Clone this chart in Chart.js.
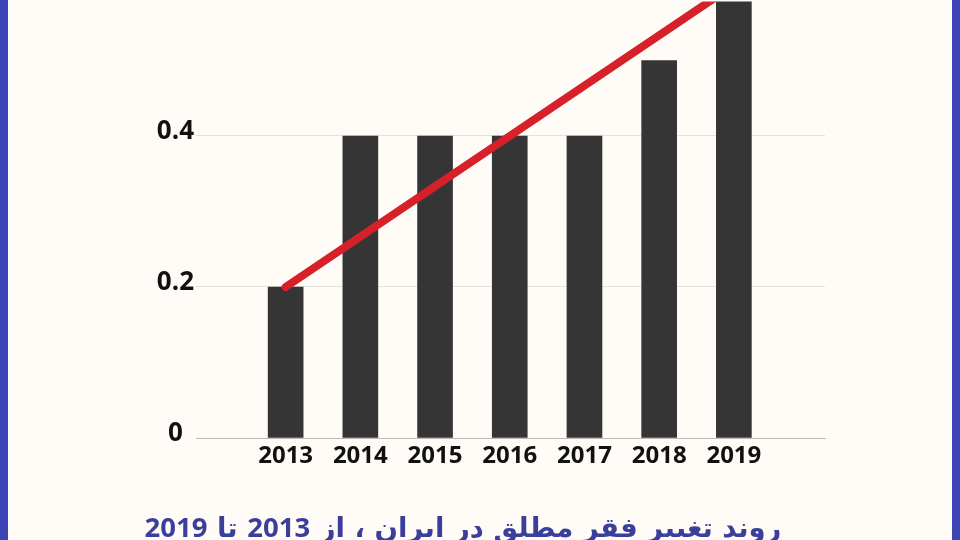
<!DOCTYPE html>
<html>
<head>
<meta charset="utf-8">
<script src="https://cdn.jsdelivr.net/npm/chart.js@4.4.1/dist/chart.umd.min.js"></script>
<style>
  html, body { margin: 0; padding: 0; background: #fffcf7; }
  #wrap { position: relative; width: 960px; height: 540px; overflow: hidden; background: #fffcf7; }
  #c { position: absolute; left: 0; top: -16px; }
  .edge { position: absolute; top: 0; width: 8px; height: 540px; background: #3d44b6; }
  #title {
    position: absolute; left: -17px; width: 960px; top: 508px;
    text-align: center; direction: rtl; white-space: nowrap;
    font-family: "DejaVu Sans", "Noto Sans", sans-serif; font-size: 27.5px; font-weight: bold;
    color: #3b3f9c; line-height: 38px;
  }
  #title b { font-family: "Open Sans", "DejaVu Sans", sans-serif; font-weight: 700; font-size: 27.5px; }
</style>
</head>
<body>
<div id="wrap">
  <canvas id="c" width="960" height="556"></canvas>
  <div class="edge" style="left:0"></div>
  <div class="edge" style="left:952px"></div>
  <div id="title">روند تغییر فقر مطلق در ایران ، از <b>2013</b> تا <b>2019</b></div>
</div>
<script>
const years = [2013, 2014, 2015, 2016, 2017, 2018, 2019];
const povertyRates = [0.2, 0.4, 0.4, 0.4, 0.4, 0.5, 0.6];
const trendYears = [2013, 2019];
const trendValues = [0.2, 0.6];
const yTicks = [0, 0.2, 0.4];

const barData = years.map((yr, i) => ({ x: yr, y: povertyRates[i] }));
const trendData = trendYears.map((yr, i) => ({ x: yr, y: trendValues[i] }));

new Chart(document.getElementById('c'), {
  type: 'bar',
  data: {
    datasets: [
      {
        type: 'line',
        data: trendData,
        borderColor: '#d6212a',
        borderWidth: 8,
        pointRadius: 0,
        borderCapStyle: 'round',
        order: 0
      },
      {
        type: 'bar',
        data: barData,
        backgroundColor: '#353535',
        barThickness: 35,
        order: 1
      }
    ]
  },
  options: {
    responsive: false,
    animation: false,
    layout: { padding: { left: 0, right: 135, top: 0, bottom: 0 } },
    plugins: { legend: { display: false }, tooltip: { enabled: false }, title: { display: false } },
    scales: {
      x: {
        type: 'linear',
        min: 2011.8,
        max: 2020.22,
        offset: false,
        afterBuildTicks: (s) => { s.ticks = years.map(v => ({ value: v })); },
        afterFit: (s) => { s.height = 102; },
        grid: { display: false, drawTicks: false },
        border: { display: true, color: '#bdbab5', width: 1 },
        ticks: {
          padding: 4,
          color: '#111',
          font: { family: '"Open Sans", "Liberation Sans", sans-serif', size: 24, weight: 'bold' },
          callback: (v) => String(v)
        }
      },
      y: {
        min: 0,
        max: 0.578,
        afterBuildTicks: (s) => { s.ticks = yTicks.map(v => ({ value: v })); },
        afterFit: (s) => { s.width = 196; },
        grid: { color: '#e4e1dc', lineWidth: 1, drawTicks: false },
        border: { display: false },
        ticks: {
          padding: 2,
          crossAlign: 'center',
          labelOffset: -4,
          color: '#111',
          font: { family: '"Open Sans", "Liberation Sans", sans-serif', size: 26, weight: 'bold' },
          callback: (v) => String(v)
        }
      }
    }
  }
});
</script>
</body>
</html>
